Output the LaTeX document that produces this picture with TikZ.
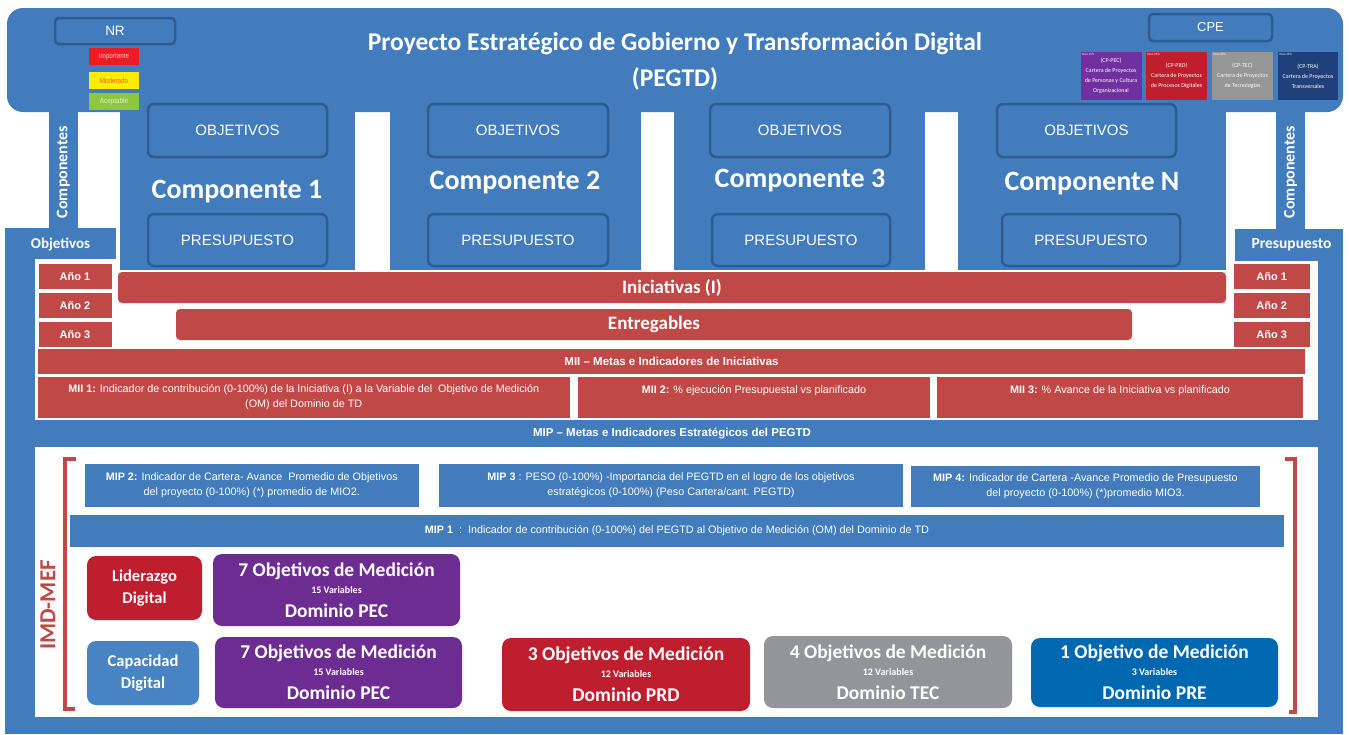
\documentclass[tikz,border=0pt]{standalone}
\usepackage{fontspec}
\setmainfont{Carlito}
\newfontfamily\arialfont{Liberation Sans}
\newfontfamily\narrowfont{Liberation Sans}[FakeStretch=0.84]
\usetikzlibrary{positioning}

\definecolor{mainblue}{RGB}{66,124,189}
\definecolor{edgeblue}{RGB}{44,92,145}
\definecolor{miired}{RGB}{192,72,70}
\definecolor{domred}{RGB}{190,30,45}
\definecolor{dompurple}{RGB}{108,44,145}
\definecolor{domgrey}{RGB}{147,149,152}
\definecolor{domblue}{RGB}{0,103,177}
\definecolor{capblue}{RGB}{72,132,196}
\definecolor{nrred}{RGB}{237,28,36}
\definecolor{nryellow}{RGB}{255,237,0}
\definecolor{nrgreen}{RGB}{141,198,63}
\definecolor{cppurple}{RGB}{112,48,160}
\definecolor{cpred}{RGB}{192,30,45}
\definecolor{cpgrey}{RGB}{150,150,150}
\definecolor{cpnavy}{RGB}{31,64,122}

\newcommand{\domtext}[3]{#1\\[-4pt]{\fontsize{10}{10}\selectfont #2}\\[3pt]#3}

\begin{document}
\begin{tikzpicture}[x=1pt, y=-1pt,
  outlinebox/.style={draw=edgeblue, line width=2.5pt, fill=mainblue, rounded corners=6pt, inner sep=0pt, text=white, font=\arialfont\fontsize{15}{18}\selectfont},
  complabel/.style={text=white, font=\bfseries\fontsize{28}{30}\selectfont},
  sidelabel/.style={text=white, font=\bfseries\fontsize{15.5}{18}\selectfont},
  legbox/.style={inner sep=0pt, minimum width=50pt, minimum height=17pt, font=\narrowfont\fontsize{7.5}{8}\selectfont},
  cartera/.style={inner sep=0pt, minimum width=61pt, minimum height=48pt, text=white, align=center, font=\fontsize{6}{10}\selectfont, label={[text=white, font=\fontsize{3.2}{4}\selectfont, anchor=north west, inner sep=1.5pt]north west:Peso 25\%}},
  anio/.style={fill=miired, inner sep=0pt, minimum height=25pt, text=white, font=\arialfont\bfseries\fontsize{11}{13}\selectfont},
  redbar/.style={fill=miired, rounded corners=4pt, inner sep=0pt, minimum height=31pt, text=white, font=\bfseries\fontsize{19}{20}\selectfont},
  mbox/.style={inner sep=0pt, text=white, align=center, font=\arialfont\fontsize{10.8}{15}\selectfont},
  bandtext/.style={text=white, font=\arialfont\bfseries\fontsize{11.5}{13}\selectfont},
  dombox/.style={rounded corners=9pt, inner sep=0pt, minimum width=247pt, text=white, align=center, font=\bfseries\fontsize{19.5}{21}\selectfont},
  dimbox/.style={rounded corners=9pt, inner sep=0pt, minimum height=64pt, text=white, align=center, font=\bfseries\fontsize{16.5}{22}\selectfont},
  bracket/.style={draw=miired, line width=4.5pt}
]
\useasboundingbox (0,0) rectangle (1349,734);
\fill[white] (0,0) rectangle (1349,734);

% Header
\node[fill=mainblue, rounded corners=16pt, inner sep=0pt, minimum width=1336pt, minimum height=104pt] (header) at (675,60) {};

% Component columns
\fill[mainblue] (49,100) rectangle (78,228);
\fill[mainblue] (1276,100) rectangle (1305,229);
\fill[mainblue] (120,100) rectangle (355,270);
\fill[mainblue] (390,100) rectangle (641,270);
\fill[mainblue] (674,100) rectangle (925,270);
\fill[mainblue] (958,100) rectangle (1226,270);

% Lower frame
\fill[mainblue] (5,228) rectangle (116,259);
\fill[mainblue] (5,228) rectangle (35,734);
\fill[mainblue] (1235,229) rectangle (1343,261);
\fill[mainblue] (1318,229) rectangle (1343,734);
\fill[mainblue] (5,717) rectangle (1343,734);
\fill[mainblue] (5,420) rectangle (1343,447);

\node[text=white, align=center, font=\bfseries\fontsize{25.5}{36}\selectfont] (title) at (675,61) {Proyecto Estratégico de Gobierno y Transformación Digital\\(PEGTD)};

% NR legend
\node[outlinebox, rounded corners=4pt, minimum width=120pt, minimum height=26pt, font=\arialfont\fontsize{13.5}{15}\selectfont] (nr) at (115,31) {NR};
\node[legbox, fill=nrred, text={rgb,255:red,255;green,200;blue,200}] (imp) at (114,56.5) {Importante};
\node[legbox, fill=nryellow, text={rgb,255:red,240;green,90;blue,20}, below=7pt of imp] (mod) {Moderado};
\node[legbox, fill=nrgreen, text={rgb,255:red,230;green,242;blue,215}, below=3pt of mod] (acep) {Aceptable};

% CPE legend
\node[outlinebox, rounded corners=4pt, minimum width=123pt, minimum height=27pt, font=\arialfont\fontsize{13}{15}\selectfont] (cpe) at (1210.5,27.5) {CPE};
\node[cartera, fill=cppurple] (cpPEC) at (1111,76) {(CP-PEC)\\Cartera de Proyectos\\de Personas y Cultura\\Organizacional};
\node[cartera, fill=cpred] (cpPRD) at (1176.5,76) {(CP-PRD)\\Cartera de Proyectos\\de Procesos Digitales};
\node[cartera, fill=cpgrey] (cpTEC) at (1242.5,76) {(CP-TEC)\\Cartera de Proyectos\\de Tecnologías};
\node[cartera, fill=cpnavy, minimum width=60pt] (cpTRA) at (1308,76) {(CP-TRA)\\Cartera de Proyectos\\Transversales};

% Components
\node[sidelabel, rotate=90, font=\bfseries\fontsize{16}{18}\selectfont] (compL) at (63.5,172) {Componentes};
\node[sidelabel, rotate=90, font=\bfseries\fontsize{16}{18}\selectfont] (compR) at (1290.5,172) {Componentes};
\node[outlinebox, minimum width=179pt, minimum height=53pt] (obj1) at (237.5,130.5) {OBJETIVOS};
\node[outlinebox, minimum width=180pt, minimum height=53pt] (obj2) at (518,130.5) {OBJETIVOS};
\node[outlinebox, minimum width=180pt, minimum height=53pt] (obj3) at (800,130.5) {OBJETIVOS};
\node[outlinebox, minimum width=179pt, minimum height=53pt] (obj4) at (1086.5,130.5) {OBJETIVOS};
\node[complabel] (comp1) at (237,192) {Componente 1};
\node[complabel] (comp2) at (515,183) {Componente 2};
\node[complabel] (comp3) at (800,180.5) {Componente 3};
\node[complabel] (compN) at (1092,184) {Componente N};
\node[outlinebox, minimum width=179pt, minimum height=52pt] (pres1) at (237.5,240) {PRESUPUESTO};
\node[outlinebox, minimum width=180pt, minimum height=52pt] (pres2) at (518,240) {PRESUPUESTO};
\node[outlinebox, minimum width=178pt, minimum height=52pt] (pres3) at (801,240) {PRESUPUESTO};
\node[outlinebox, minimum width=178pt, minimum height=52pt] (pres4) at (1091,240) {PRESUPUESTO};
\node[sidelabel, font=\bfseries\fontsize{15}{18}\selectfont] (objtab) at (60.5,244) {Objetivos};
\node[sidelabel] (prestab) at (1291.5,245) {Presupuesto};

% Years and initiatives
\node[anio, minimum width=73pt] (anioL1) at (75,276.5) {Año 1};
\node[anio, minimum width=73pt, below=3.5pt of anioL1] (anioL2) {Año 2};
\node[anio, minimum width=73pt, below=3.5pt of anioL2] (anioL3) {Año 3};
\node[anio, minimum width=76.5pt] (anioR1) at (1271.75,276.5) {Año 1};
\node[anio, minimum width=76.5pt, below=3.5pt of anioR1] (anioR2) {Año 2};
\node[anio, minimum width=76.5pt, below=3.5pt of anioR2] (anioR3) {Año 3};
\node[redbar, minimum width=1108pt] (inic) at (672,287.5) {Iniciativas (I)};
\node[redbar, minimum width=956pt] (entr) at (654,324.5) {Entregables};

% MII
\node[fill=miired, inner sep=0pt, minimum width=1267pt, minimum height=25pt, bandtext] (mii) at (671.5,361.5) {MII – Metas e Indicadores de Iniciativas};
\node[mbox, fill=miired, minimum width=532pt, minimum height=41pt] (mii1) at (303.75,397.5) {\textbf{MII 1:} Indicador de contribución (0-100\%) de la Iniciativa (I) a la Variable del\ \ Objetivo de Medición\\(OM) del Dominio de TD};
\node[mbox, fill=miired, minimum width=352pt, minimum height=41pt] (mii2) at (754,397.5) {\textbf{MII 2:} \% ejecución Presupuestal vs planificado\\\mbox{}};
\node[mbox, fill=miired, minimum width=366pt, minimum height=41pt] (mii3) at (1120,397.5) {\textbf{MII 3:} \% Avance de la Iniciativa vs planificado\\\mbox{}};

% MIP
\node[bandtext] (mip) at (672,433.5) {MIP – Metas e Indicadores Estratégicos del PEGTD};
\node[mbox, fill=mainblue, minimum width=334.5pt, minimum height=43pt] (mip2) at (251.75,485.5) {\textbf{MIP 2:} Indicador de Cartera- Avance\ \ Promedio de Objetivos\\del proyecto (0-100\%) (*) promedio de MIO2.};
\node[mbox, fill=mainblue, minimum width=464pt, minimum height=43pt] (mip3) at (671,485.5) {\textbf{MIP 3} : PESO (0-100\%) -Importancia del PEGTD en el logro de los objetivos\\estratégicos (0-100\%) (Peso Cartera/cant. PEGTD)};
\node[mbox, fill=mainblue, minimum width=349pt, minimum height=41pt] (mip4) at (1085.5,486.5) {\textbf{MIP 4:} Indicador de Cartera -Avance Promedio de Presupuesto\\del proyecto (0-100\%) (*)promedio MIO3.};
\node[mbox, fill=mainblue, minimum width=1214pt, minimum height=32pt] (mip1) at (677,531) {\textbf{MIP 1}\ \ :\ \ Indicador de contribución (0-100\%) del PEGTD al Objetivo de Medición (OM) del Dominio de TD};

% IMD-MEF
\draw[bracket] (76,459) -- (65,459) -- (65,709) -- (75,709);
\draw[bracket] (1285,459) -- (1295,459) -- (1295,712) -- (1289,712);
\node[rotate=90, text=miired, font=\bfseries\fontsize{23}{24}\selectfont] (imd) at (48,605) {IMD-MEF};

% Dimensions and domains
\node[dimbox, fill=domred, minimum width=115pt] (lid) at (144.5,588) {Liderazgo\\Digital};
\node[dimbox, fill=capblue, minimum width=112pt] (cap) at (143,673) {Capacidad\\Digital};
\node[dombox, fill=dompurple, minimum height=72pt] (pecA) at (336.5,590) {\domtext{7 Objetivos de Medición}{15 Variables}{Dominio PEC}};
\node[dombox, fill=dompurple, minimum height=71pt] (pecB) at (338.5,672.5) {\domtext{7 Objetivos de Medición}{15 Variables}{Dominio PEC}};
\node[dombox, fill=domred, minimum width=248pt, minimum height=73pt] (prd) at (626,674.5) {\domtext{3 Objetivos de Medición}{12 Variables}{Dominio PRD}};
\node[dombox, fill=domgrey, minimum width=248pt, minimum height=72pt] (tec) at (888,672) {\domtext{4 Objetivos de Medición}{12 Variables}{Dominio TEC}};
\node[dombox, fill=domblue, minimum height=69pt] (pre) at (1154.5,672.5) {\domtext{1 Objetivo de Medición}{3 Variables}{Dominio PRE}};
\end{tikzpicture}
\end{document}
